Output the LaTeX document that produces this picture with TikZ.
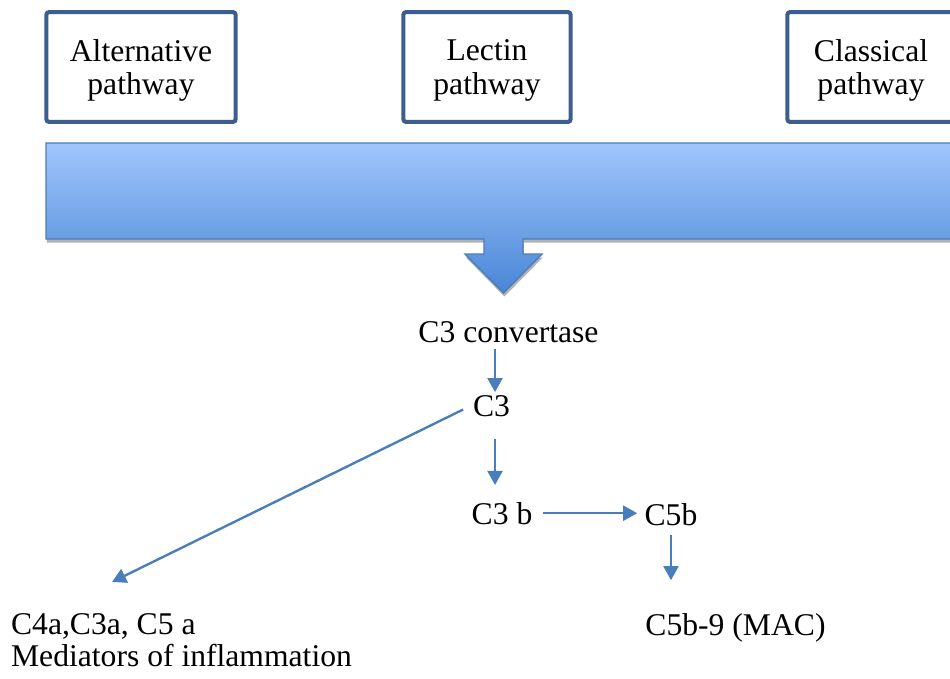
\documentclass[tikz,border=0pt]{standalone}
\usepackage{fontspec}
\setmainfont{Liberation Serif}
\usetikzlibrary{arrows.meta,shadows}

\definecolor{boxedge}{HTML}{3B5E8C}
\definecolor{flowblue}{HTML}{4A7EBB}
\definecolor{bartop}{HTML}{A0C6FC}
\definecolor{barbottom}{HTML}{4A86D6}

\tikzset{
	pathbox/.style={draw=boxedge, line width=2.3pt, rounded corners=1.5pt, align=center, minimum height=62.5pt, text depth=0pt, font=\fontsize{18}{19.3}\selectfont},
	txt/.style={inner sep=1pt, anchor=base, font=\fontsize{18}{19.3}\selectfont},
	flow/.style={color=flowblue, line width=1.35pt, -{Triangle[length=8pt,width=8.5pt]}}
}

\begin{document}
\begin{tikzpicture}[x=0.02cm, y=-0.02cm]
		\clip (0,0) rectangle (950,679);
		\fill[white] (0,0) rectangle (950,679);

		\draw (141,67) node[pathbox, minimum width=107.7pt] (alt) {Alternative\\pathway};
		\draw (487,67) node[pathbox, minimum width=95.2pt] (lec) {Lectin\\pathway};
		\draw (871,67) node[pathbox, minimum width=95.2pt] (cla) {Classical\\pathway};

		\draw[draw=flowblue, line width=0.8pt, top color=bartop, bottom color=barbottom,
			drop shadow={shadow xshift=0.5pt, shadow yshift=-2pt, opacity=0.3, fill=black}]
			(46,143) -- (965,143) -- (965,239) -- (523,239) -- (523,254) -- (542,254)
			-- (503.5,293) -- (465,254) -- (484,254) -- (484,239) -- (46,239) -- cycle;

		\draw (508.5,342) node[txt] (conv) {C3 convertase};
		\draw (491.5,416) node[txt] (c3) {C3};
		\draw (502,524) node[txt] (c3b) {C3 b};
		\draw (671,525) node[txt] (c5b) {C5b};
		\draw (735.5,635) node[txt] (mac) {C5b-9 (MAC)};
		\draw (9,611.5) node[txt, anchor=north west, align=left, font=\fontsize{18}{18.2}\selectfont] (med) {C4a,C3a, C5 a\\Mediators of inflammation};
		\coordinate (medtip) at (112,582);

		\path[flow]
			([xshift=2pt]c3.north |- conv.south)	edge	[shorten <=2.4pt, shorten >=0.5pt]	([xshift=2pt]c3.north)
			([xshift=2pt]c3.south)	edge	[shorten <=11.5pt, shorten >=8.5pt]	([xshift=2pt]c3.south |- c3b.north)
			(c3.west)	edge	[shorten <=5pt]	(medtip)
			(c3b.east)	edge	[shorten <=5pt, shorten >=3pt]	(c3b.east -| c5b.west)
			(c5b.south)	edge	[shorten <=4.5pt, shorten >=17.5pt]	(c5b.south |- mac.north)
			;
\end{tikzpicture}
\end{document}
